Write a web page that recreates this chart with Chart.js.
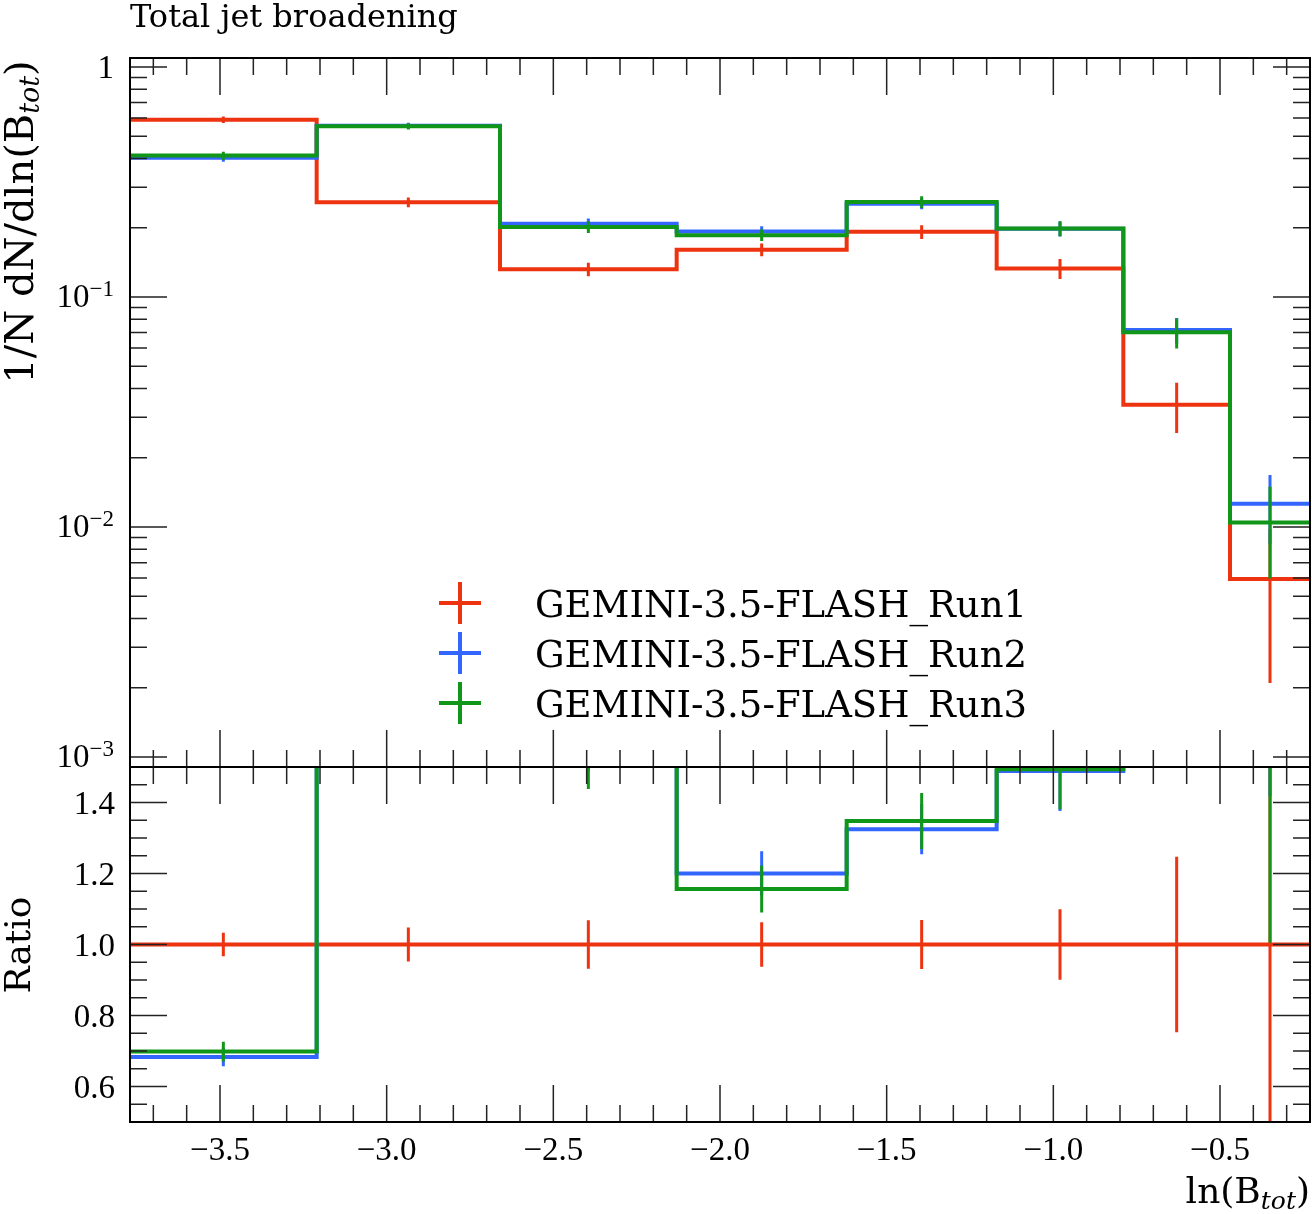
<!DOCTYPE html>
<html>
<head>
<meta charset="utf-8">
<script src="https://cdn.jsdelivr.net/npm/chart.js@4.4.1/dist/chart.umd.min.js"></script>
<style>
  html, body { margin: 0; padding: 0; background: #fff; }
  #wrap { position: relative; width: 1312px; height: 1214px; }
  canvas { position: absolute; left: 0; }
  #main { top: 0; }
  #ratio { top: 740px; }
</style>
</head>
<body>
<div id="wrap">
  <canvas id="main" width="1312" height="800"></canvas>
  <canvas id="ratio" width="1312" height="474"></canvas>
</div>
<script>
// ---- data ----
const plotTitle = 'Total jet broadening';
const binEdges = [-3.77, -3.21, -2.66, -2.13, -1.62, -1.17, -0.79, -0.47, -0.23];

const run1Values = [0.59, 0.258, 0.132, 0.1606, 0.192, 0.133, 0.034, 0.00594];
const run1Errors = [0.0195, 0.0124, 0.009, 0.0101, 0.0132, 0.0132, 0.0084, 0.00384];
const run2Values = [0.403, 0.555, 0.208, 0.1927, 0.2544, 0.198, 0.0719, 0.01262];
const run2Errors = [0.0153, 0.0165, 0.0115, 0.0101, 0.0136, 0.015, 0.0092, 0.0042];
const run3Values = [0.412, 0.552, 0.2015, 0.1857, 0.2588, 0.1987, 0.0702, 0.01047];
const run3Errors = [0.0165, 0.0166, 0.0117, 0.0106, 0.0152, 0.015, 0.0105, 0.0045];

const seriesLabels = ['GEMINI-3.5-FLASH_Run1', 'GEMINI-3.5-FLASH_Run2', 'GEMINI-3.5-FLASH_Run3'];
const seriesColors = ['#EE3311', '#3366FF', '#109618'];

const xMajorTicks = [-3.5, -3.0, -2.5, -2.0, -1.5, -1.0, -0.5];
const xTickLabels = ['\u22123.5', '\u22123.0', '\u22122.5', '\u22122.0', '\u22121.5', '\u22121.0', '\u22120.5'];
const yMainMajorTicks = [1, 0.1, 0.01, 0.001];
const yMainTickExps = ['', '\u22121', '\u22122', '\u22123'];
const ratioMajorTicks = [0.6, 0.8, 1.0, 1.2, 1.4];
const ratioTickLabels = ['0.6', '0.8', '1.0', '1.2', '1.4'];

const X_MIN = -3.77, X_MAX = -0.23;
const Y_MIN = 0.000905, Y_MAX = 1.094;
const R_MIN = 0.5, R_MAX = 1.5;

const NUM_FONT = '"Liberation Serif", serif';
const TXT_FONT = '"DejaVu Serif", serif';

// minor tick positions
const xMinorTicks = [];
for (let k = -37; k <= -3; k++) if (k % 5 !== 0) xMinorTicks.push(k / 10);
const yMainMinorTicks = [];
for (let d = -4; d <= 0; d++) for (let m = 2; m <= 9; m++) {
  const v = m * Math.pow(10, d);
  if (v > Y_MIN && v < Y_MAX) yMainMinorTicks.push(v);
}
const ratioMinorTicks = [];
for (let k = 11; k <= 29; k++) if (k % 4 !== 0) ratioMinorTicks.push(k * 0.05);

const allValues = [run1Values, run2Values, run3Values];
const allErrors = [run1Errors, run2Errors, run3Errors];

// histogram as step points at the bin edges
function toSteps(vals) {
  return binEdges.map((e, i) => ({ x: e, y: vals[Math.min(i, vals.length - 1)] }));
}

function makeDatasets(valsList, errsList) {
  return valsList.map((vals, k) => ({
    label: seriesLabels[k],
    data: toSteps(vals),
    vals: vals,
    errs: errsList[k],
    borderColor: seriesColors[k],
    borderWidth: 4,
    stepped: true,
    pointRadius: 0,
    fill: false,
    clip: 0,
    order: 3 - k
  }));
}

// ---- plugins ----
const errorBars = {
  id: 'errorBars',
  afterDatasetDraw(chart, args) {
    const ds = chart.data.datasets[args.index];
    const { ctx, chartArea: a, scales: { x, y } } = chart;
    ctx.save();
    ctx.beginPath();
    ctx.rect(a.left, a.top, a.right - a.left, a.bottom - a.top);
    ctx.clip();
    ctx.strokeStyle = ds.borderColor;
    ctx.lineWidth = 3;
    ctx.beginPath();
    ds.vals.forEach((v, i) => {
      const cx = x.getPixelForValue((binEdges[i] + binEdges[i + 1]) / 2);
      const lo = Math.max(v - ds.errs[i], 1e-9);
      ctx.moveTo(cx, y.getPixelForValue(v + ds.errs[i]));
      ctx.lineTo(cx, y.getPixelForValue(lo));
    });
    ctx.stroke();
    ctx.restore();
  }
};

function frameTicks(yMajor, yMinor) {
  return {
    id: 'frameTicks',
    afterDraw(chart) {
      const { ctx, chartArea: a, scales: { x, y } } = chart;
      const MAJ = 37, MIN = 17;
      ctx.save();
      ctx.strokeStyle = '#222';
      ctx.lineWidth = 1.5;
      ctx.beginPath();
      const xt = (v, len) => {
        const px = x.getPixelForValue(v);
        ctx.moveTo(px, a.top); ctx.lineTo(px, a.top + len);
        ctx.moveTo(px, a.bottom); ctx.lineTo(px, a.bottom - len);
      };
      const yt = (v, len) => {
        const py = y.getPixelForValue(v);
        ctx.moveTo(a.left, py); ctx.lineTo(a.left + len, py);
        ctx.moveTo(a.right, py); ctx.lineTo(a.right - len, py);
      };
      xMajorTicks.forEach(v => xt(v, MAJ));
      xMinorTicks.forEach(v => xt(v, MIN));
      yMajor.forEach(v => yt(v, MAJ));
      yMinor.forEach(v => yt(v, MIN));
      ctx.stroke();
      ctx.strokeStyle = '#000';
      ctx.lineWidth = 2;
      ctx.strokeRect(a.left, a.top, a.right - a.left, a.bottom - a.top);
      ctx.restore();
    }
  };
}

// text made of pieces (for subscripts / superscripts)
function drawRich(ctx, parts, x, y, align) {
  let total = 0;
  parts.forEach(p => { ctx.font = p.font; p.w = ctx.measureText(p.text).width; total += p.w; });
  let cx = align === 'right' ? x - total : align === 'center' ? x - total / 2 : x;
  ctx.textAlign = 'left';
  ctx.textBaseline = 'alphabetic';
  parts.forEach(p => {
    ctx.font = p.font;
    ctx.fillText(p.text, cx, y + (p.dy || 0));
    cx += p.w;
  });
}

const mainText = {
  id: 'mainText',
  afterDraw(chart) {
    const { ctx, scales: { y } } = chart;
    ctx.save();
    ctx.fillStyle = '#000';

    // title
    ctx.font = '32px ' + TXT_FONT;
    ctx.textAlign = 'left';
    ctx.textBaseline = 'alphabetic';
    ctx.fillText(plotTitle, 130, 27);

    // y tick labels
    yMainMajorTicks.forEach((v, i) => {
      const py = y.getPixelForValue(v);
      if (yMainTickExps[i] === '') {
        drawRich(ctx, [{ text: '1', font: '33px ' + NUM_FONT }], 114, py + 11, 'right');
      } else {
        drawRich(ctx, [
          { text: '10', font: '33px ' + NUM_FONT, dy: 10 },
          { text: yMainTickExps[i], font: '23px ' + NUM_FONT, dy: -1 }
        ], 114, py, 'right');
      }
    });

    // y axis title
    ctx.save();
    ctx.translate(33, 222);
    ctx.rotate(-Math.PI / 2);
    drawRich(ctx, [
      { text: '1/N dN/dln(B', font: '40px ' + TXT_FONT },
      { text: 'tot', font: 'italic 27px ' + TXT_FONT, dy: 6 },
      { text: ')', font: '40px ' + TXT_FONT }
    ], 0, 0, 'center');
    ctx.restore();

    // legend
    const rows = [603, 653, 703];
    seriesLabels.forEach((lab, k) => {
      const ry = rows[k];
      ctx.strokeStyle = seriesColors[k];
      ctx.lineWidth = 4;
      ctx.beginPath();
      ctx.moveTo(439, ry); ctx.lineTo(481, ry);
      ctx.moveTo(460, ry - 21); ctx.lineTo(460, ry + 21);
      ctx.stroke();
      ctx.font = '37px ' + TXT_FONT;
      ctx.textAlign = 'left';
      ctx.textBaseline = 'alphabetic';
      ctx.fillText(lab, 535, ry + 14);
    });
    ctx.restore();
  }
};

const ratioText = {
  id: 'ratioText',
  afterDraw(chart) {
    const { ctx, scales: { x, y } } = chart;
    ctx.save();
    ctx.fillStyle = '#000';
    ctx.textBaseline = 'alphabetic';

    ratioMajorTicks.forEach((v, i) => {
      drawRich(ctx, [{ text: ratioTickLabels[i], font: '33px ' + NUM_FONT }], 115, y.getPixelForValue(v) + 11, 'right');
    });
    xMajorTicks.forEach((v, i) => {
      drawRich(ctx, [{ text: xTickLabels[i], font: '33px ' + NUM_FONT }], x.getPixelForValue(v), 1160 - 740, 'center');
    });

    // x axis title
    drawRich(ctx, [
      { text: 'ln(B', font: '36px ' + TXT_FONT },
      { text: 'tot', font: 'italic 25px ' + TXT_FONT, dy: 6 },
      { text: ')', font: '36px ' + TXT_FONT }
    ], 1310, 1203 - 740, 'right');

    // ratio title
    ctx.save();
    ctx.translate(30, 945 - 740);
    ctx.rotate(-Math.PI / 2);
    drawRich(ctx, [{ text: 'Ratio', font: '36px ' + TXT_FONT }], 0, 0, 'center');
    ctx.restore();
    ctx.restore();
  }
};

const baseOptions = (pad, yScale) => ({
  responsive: false,
  animation: false,
  devicePixelRatio: 1,
  events: [],
  layout: { padding: pad },
  plugins: { legend: { display: false }, tooltip: { enabled: false }, title: { display: false } },
  scales: {
    x: { type: 'linear', min: X_MIN, max: X_MAX, display: false },
    y: yScale
  }
});

// ---- main panel ----
new Chart(document.getElementById('main'), {
  type: 'line',
  data: { datasets: makeDatasets(allValues, allErrors) },
  options: baseOptions({ left: 130, right: 2, top: 58, bottom: 33 },
    { type: 'logarithmic', min: Y_MIN, max: Y_MAX, display: false }),
  plugins: [errorBars, frameTicks(yMainMajorTicks, yMainMinorTicks), mainText]
});

// ---- ratio panel (relative to Run1) ----
const ratioValues = allValues.map(vals => vals.map((v, i) => v / run1Values[i]));
const ratioErrors = allErrors.map(errs => errs.map((e, i) => e / run1Values[i]));

new Chart(document.getElementById('ratio'), {
  type: 'line',
  data: { datasets: makeDatasets(ratioValues, ratioErrors) },
  options: baseOptions({ left: 130, right: 2, top: 27, bottom: 92 },
    { type: 'linear', min: R_MIN, max: R_MAX, display: false }),
  plugins: [errorBars, frameTicks(ratioMajorTicks, ratioMinorTicks), ratioText]
});
</script>
</body>
</html>
